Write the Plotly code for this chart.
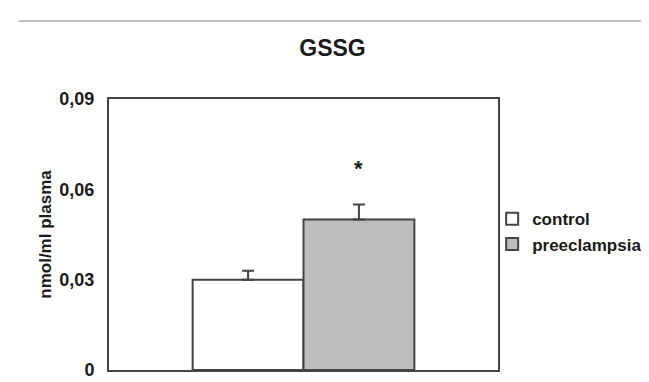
import plotly.graph_objects as go

groups = ["control", "preeclampsia"]
category = [""]
means = [0.030, 0.050]
errors = [0.003, 0.005]
fills = ["#ffffff", "#bdbdbd"]
tick_vals = [0, 0.03, 0.06, 0.09]
tick_text = ["0", "0,03", "0,06", "0,09"]
sig_label = "*"
sig_value = 0.067

FONT = "Liberation Sans, Arial, sans-serif"
DARK = "#1a1a1a"
LINE = "#444444"

fig = go.Figure()
for name, m, e, c in zip(groups, means, errors, fills):
    fig.add_trace(go.Bar(
        name=name, x=category, y=[m],
        marker=dict(color=c, line=dict(color=LINE, width=2)),
        error_y=dict(type="data", symmetric=False, array=[e], arrayminus=[0],
                     color=LINE, thickness=2, width=6),
    ))

fig.add_annotation(x=0.1425, y=sig_value, xref="x", yref="y", text=sig_label,
                   showarrow=False, font=dict(family=FONT, size=22, color=DARK, weight=700))

fig.add_shape(type="line", xref="paper", yref="paper", x0=-0.232, x1=1.37, y0=1.288, y1=1.288,
              line=dict(color="#aaaaaa", width=1.5))

fig.update_layout(
    width=649, height=382,
    margin=dict(l=101, r=147, t=91, b=10),
    paper_bgcolor="white", plot_bgcolor="white",
    barmode="group", bargap=0.43, bargroupgap=0,
    separators=",.",
    title=dict(text="GSSG", x=0.5, xanchor="center", y=0.895, yanchor="middle",
               font=dict(family=FONT, size=23, color=DARK, weight=700)),
    font=dict(family=FONT, color=DARK),
    showlegend=True,
    legend=dict(x=0.985, xanchor="left", y=0.51, yanchor="middle",
                bgcolor="rgba(0,0,0,0)",
                font=dict(family=FONT, size=17, color=DARK, weight=700),
                itemwidth=30, tracegroupgap=0),
    xaxis=dict(showticklabels=False, showgrid=False, showline=True, linecolor=LINE,
               linewidth=2, mirror=True, ticks="", zeroline=False),
    yaxis=dict(range=[0, 0.09], tickvals=tick_vals, ticktext=tick_text,
               showgrid=False, showline=True, linecolor=LINE, linewidth=2, mirror=True,
               ticks="outside", ticklen=9, tickcolor="rgba(0,0,0,0)", zeroline=False,
               ticklabeloverflow="allow",
               tickfont=dict(family=FONT, size=18, color=DARK, weight=700),
               title=dict(text="nmol/ml plasma", standoff=3,
                          font=dict(family=FONT, size=17, color=DARK, weight=700))),
)

fig.write_html("out.html")
